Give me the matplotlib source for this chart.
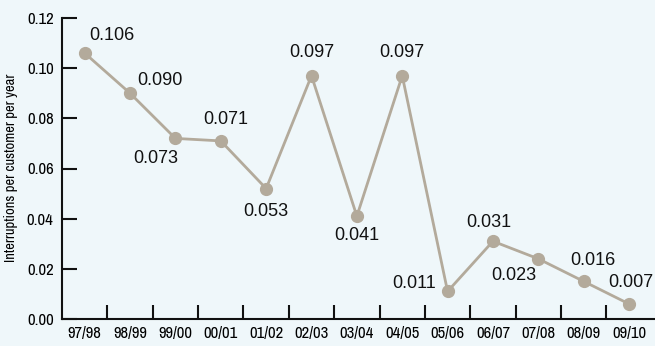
import numpy
import matplotlib
matplotlib.use('Agg')
from matplotlib import pyplot as plt

#Data

years = ['97/98', '98/99', '99/00', '00/01', '01/02', '02/03', '03/04',
         '04/05', '05/06', '06/07', '07/08', '08/09', '09/10']
values = [0.106, 0.090, 0.072, 0.071, 0.052, 0.097, 0.041,
          0.097, 0.011, 0.031, 0.024, 0.015, 0.006]
labels = ['0.106', '0.090', '0.073', '0.071', '0.053', '0.097', '0.041',
          '0.097', '0.011', '0.031', '0.023', '0.016', '0.007']

#label offsets in pixels (dx, dy up)
offs = [(27, 18), (30, 13), (-20, -20), (5, 21), (0, -23), (0, 23), (0, -19),
        (0, 23), (-33, 8), (-4, 19), (-25, -17), (9, 21), (2, 21)]

#Plot

bg = '#eff7fa'
col = '#b3aa9b'
narrow = ['Archivo Narrow', 'DejaVu Sans']
plain = ['Liberation Sans', 'DejaVu Sans']

fig = plt.figure(figsize=(6.55, 3.46), dpi=100, facecolor=bg)
ax = fig.add_axes([62/655, 1-319/346, 592/655, 301/346], facecolor=bg)

x = numpy.arange(len(years))
ax.plot(x, values, color=col, lw=2, marker='o', ms=8.5, mec=col, mfc=col, clip_on=False, zorder=3)

for xi, v, lab, (dx, dy) in zip(x, values, labels, offs):
    ax.annotate(lab, (xi, v), xytext=(dx*0.72, dy*0.72), textcoords='offset points',
                ha='center', va='center', fontsize=13, family=plain, color='#111111')

ax.set_xlim(-0.5, len(years)-0.45)
ax.set_ylim(0, 0.12)
yt = numpy.arange(0, 0.121, 0.02)
ax.set_yticks(yt)
ax.set_yticklabels(['%.2f' % t for t in yt], family=narrow, fontstretch='condensed', fontsize=12)

ax.set_xticks(numpy.arange(0.5, len(years)-0.5, 1.0))
ax.set_xticklabels([])
ax.set_xticks(x, minor=True)
ax.set_xticklabels(years, minor=True, family=narrow, fontstretch='condensed', fontsize=12)
ax.tick_params(axis='x', which='major', direction='in', length=10, width=1.5, color='#111111')
ax.tick_params(axis='x', which='minor', length=0, pad=5)
ax.tick_params(axis='y', direction='in', length=11, width=1.5, color='#111111', pad=6)

for s in ['top', 'right']:
    ax.spines[s].set_visible(False)
for s in ['left', 'bottom']:
    ax.spines[s].set_linewidth(1.5)
    ax.spines[s].set_color('#111111')

fig.text(11/655, 1-168/346, 'Interruptions per customer per year', rotation=90,
         ha='center', va='center', fontsize=10.5, family=narrow, fontstretch='condensed')

plt.savefig('out.png', dpi=100, facecolor=bg)
